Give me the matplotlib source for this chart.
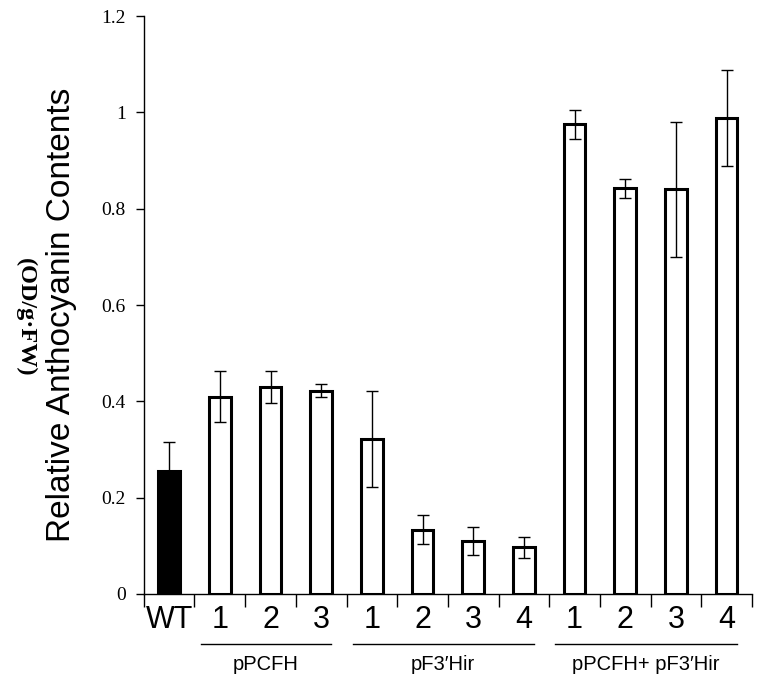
import matplotlib
matplotlib.use("Agg")
import matplotlib.pyplot as plt
import numpy as np

categories = ["WT", "1", "2", "3", "1", "2", "3", "4", "1", "2", "3", "4"]
values = [0.255, 0.41, 0.43, 0.422, 0.322, 0.133, 0.11, 0.097, 0.975, 0.842, 0.84, 0.988]
errors = [0.06, 0.052, 0.034, 0.013, 0.099, 0.03, 0.03, 0.022, 0.03, 0.02, 0.14, 0.1]
fills = ["black"] + ["white"] * 11
groups = ["pPCFH", "pF3\u2032Hir", "pPCFH+ pF3\u2032Hir"]
group_spans = [(1, 3), (4, 7), (8, 11)]
yticks = [0, 0.2, 0.4, 0.6, 0.8, 1, 1.2]
ytick_labels = ["0", "0.2", "0.4", "0.6", "0.8", "1", "1.2"]

fig = plt.figure(figsize=(7.61, 6.79), dpi=100)
ax = fig.add_axes([0.189, 0.1252, 0.799, 0.8512])

x = np.arange(len(values))
ax.bar(x, values, width=0.43, color=fills, edgecolor="black", linewidth=2.2, zorder=2)
ax.errorbar(x, values, yerr=errors, fmt="none", ecolor="black", elinewidth=1.0,
            capsize=4, capthick=1.0, zorder=3)

ax.set_xlim(-0.5, len(values) - 0.5)
ax.set_ylim(0, 1.2)
ax.spines["top"].set_visible(False)
ax.spines["right"].set_visible(False)
ax.spines["left"].set_linewidth(1.0)
ax.spines["bottom"].set_linewidth(1.0)

ax.set_yticks(yticks)
ax.set_yticklabels(ytick_labels, fontfamily="Liberation Serif", fontsize=14)
ax.tick_params(axis="y", direction="out", length=6, width=1.0, pad=7)

ax.set_xticks(x)
ax.set_xticklabels(categories, fontfamily="Liberation Sans", fontsize=22)
ax.tick_params(axis="x", which="major", length=0, pad=8)
ax.set_xticks(np.arange(-0.5, len(values), 1.0), minor=True)
ax.tick_params(axis="x", which="minor", direction="out", length=9, width=1.0)

ax.set_ylabel("Relative Anthocyanin Contents", fontfamily="Liberation Sans",
              fontsize=24)
ax.yaxis.set_label_coords(-0.110, 0.483)
fig.text(0.034, 0.532, "(OD/g\u00b7FW)", rotation=270, fontfamily="Liberation Serif",
         fontweight="bold", fontsize=17.5, ha="center", va="center")

trans = ax.get_xaxis_transform()
for name, (a, b) in zip(groups, group_spans):
    x0, x1 = a - 0.38, b + 0.2
    ax.plot([x0, x1], [-0.087, -0.087], color="black", lw=1.0,
            transform=trans, clip_on=False)
    ax.text((x0 + x1) / 2, -0.105, name, transform=trans, ha="center", va="top",
            fontfamily="Liberation Sans", fontsize=14.5)

fig.savefig("out.png", dpi=100)
